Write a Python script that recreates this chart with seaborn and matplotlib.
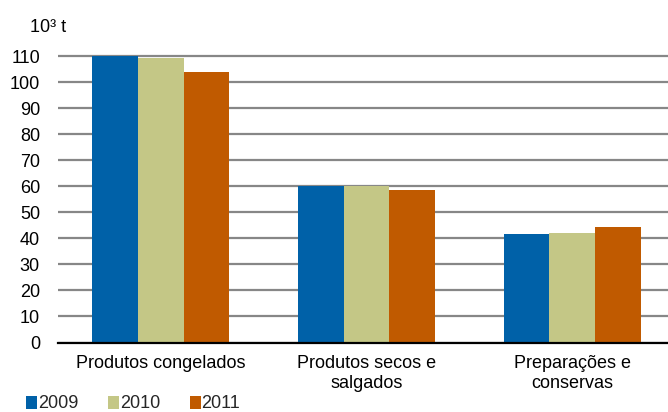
import matplotlib
matplotlib.use("Agg")
import matplotlib.pyplot as plt
import seaborn as sns
import pandas as pd
from matplotlib.patches import Patch

categories = ["Produtos congelados", "Produtos secos e\nsalgados", "Preparações e\nconservas"]
years = ["2009", "2010", "2011"]
v2009 = [110.0, 60.2, 41.5]
v2010 = [109.1, 60.2, 42.0]
v2011 = [103.9, 58.6, 44.2]
yticks = list(range(0, 111, 10))
colors = ["#0061A8", "#C4C786", "#C05A00"]

sns.set_theme(style="white")
plt.rcParams['font.family'] = ['Liberation Sans', 'DejaVu Sans']

rows = []
for yr, vals in zip(years, [v2009, v2010, v2011]):
    for c, v in zip(categories, vals):
        rows.append({"cat": c, "year": yr, "val": v})
df = pd.DataFrame(rows)

W, H = 668, 412
fig = plt.figure(figsize=(W / 100, H / 100), dpi=100)
ppu = (342.5 - 56) / 110.0
ymax = 112
top_px = 342.5 - ymax * ppu
left_px, right_px = 58, 675
ax = fig.add_axes([left_px / W, (H - 342.5) / H, (right_px - left_px) / W, (342.5 - top_px) / H])

sns.barplot(data=df, x="cat", y="val", hue="year", palette=colors, width=0.667,
            saturation=1, ax=ax, legend=False, linewidth=0, gap=0)

ax.set_ylim(0, ymax)
ax.set_xlim(-0.5, 2.5)
ax.set_yticks(yticks)
ax.set_yticklabels([str(t) for t in yticks], fontsize=13, color="black")
ax.tick_params(axis="y", length=0, pad=13)
ax.set_xlabel("")
ax.set_ylabel("")
ax.grid(axis="y", color="#878787", linewidth=1.6, zorder=0)
ax.set_axisbelow(True)
for s in ["top", "right", "left"]:
    ax.spines[s].set_visible(False)
ax.spines["bottom"].set_color("black")
ax.spines["bottom"].set_linewidth(1.6)

ax.set_xticks([0, 1, 2])
ax.set_xticklabels(categories, fontsize=13, color="black", linespacing=1.25)
ax.tick_params(axis="x", which="major", length=0, pad=9)
ax.set_xticks([-0.5, 0.5, 1.5, 2.5], minor=True)
ax.tick_params(axis="x", which="minor", length=5, width=1.5, color="black", direction="out")

fig.text(30 / W, 1 - 27 / H, "10³ t", fontsize=13, color="black", va="center", ha="left")

handles = [Patch(facecolor=c, edgecolor="none") for c in colors]
fig.legend(handles, years, loc="center left", bbox_to_anchor=(26 / W, 1 - 404 / H),
           ncol=3, frameon=False, fontsize=13, handlelength=0.6, handleheight=0.7,
           handletextpad=0.05, columnspacing=1.65, borderpad=0, borderaxespad=0)

fig.savefig("out.png", dpi=100)
